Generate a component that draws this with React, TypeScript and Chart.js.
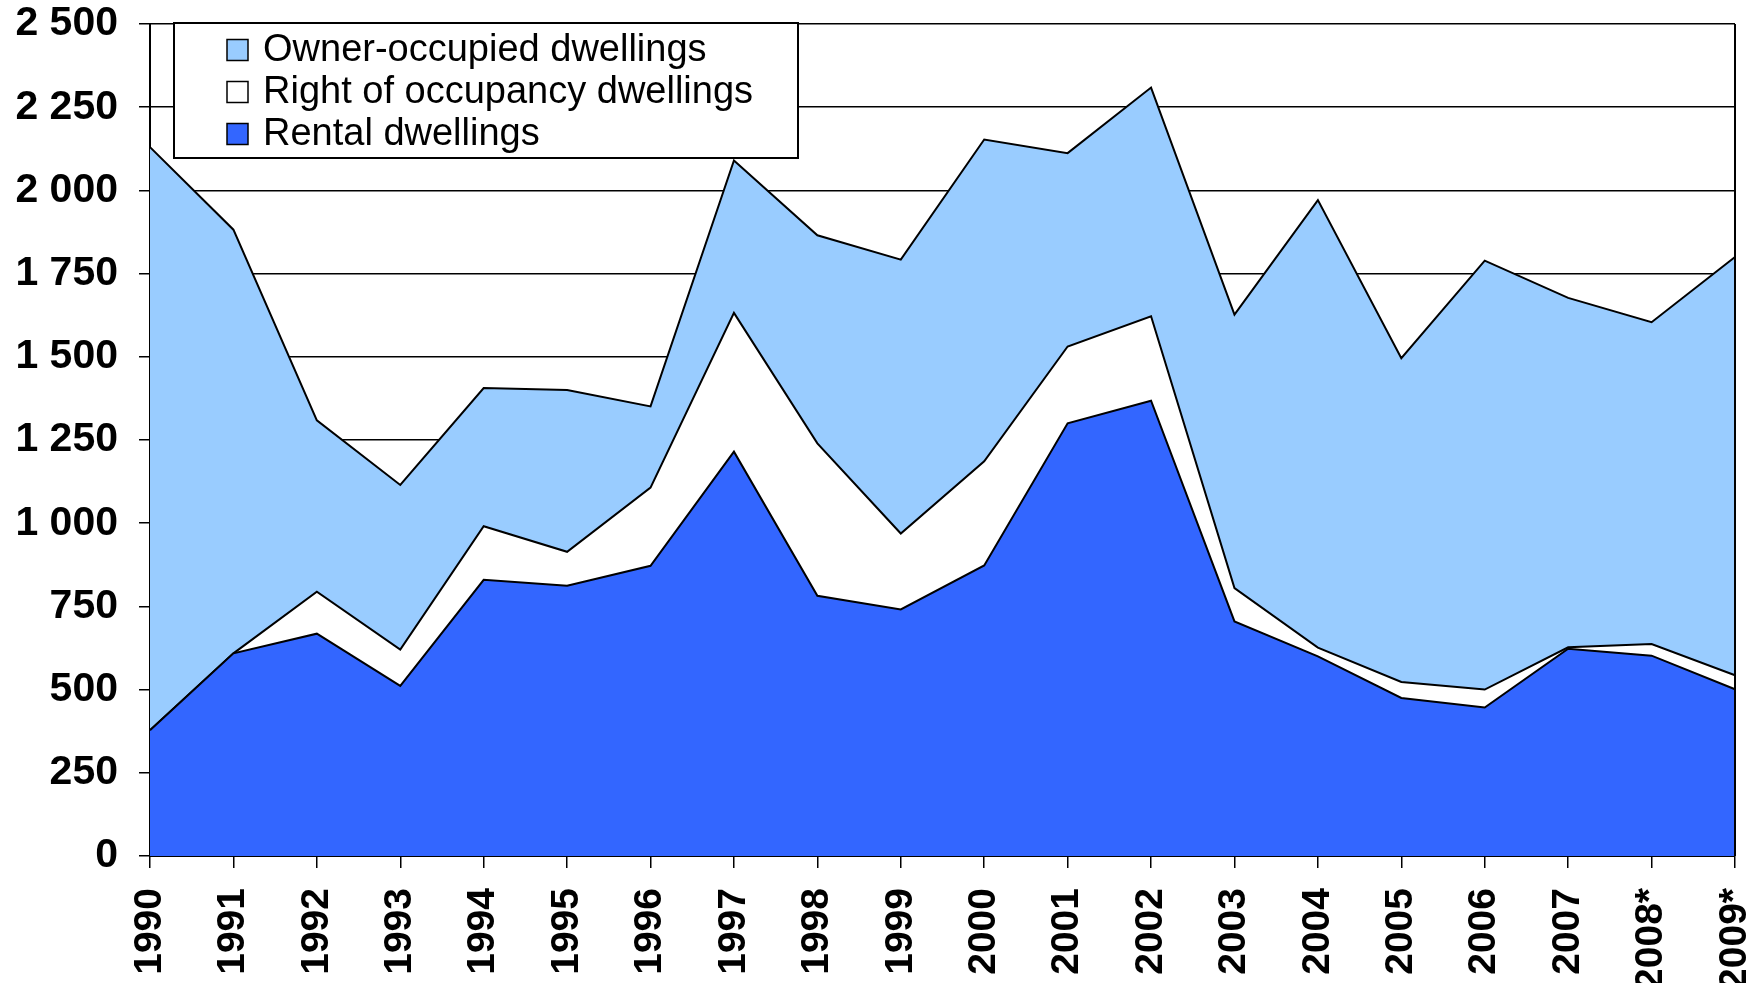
import React, { useEffect, useRef } from "react";
import { Chart, registerables } from "chart.js";

Chart.register(...registerables);

const years = [
  "1990", "1991", "1992", "1993", "1994", "1995", "1996", "1997", "1998", "1999",
  "2000", "2001", "2002", "2003", "2004", "2005", "2006", "2007", "2008*", "2009*",
];

const rentalDwellings = [378, 609, 668, 511, 830, 812, 872, 1215, 782, 741, 873, 1300, 1368, 705, 600, 475, 446, 623, 602, 501];
const rightOfOccupancyDwellings = [0, 0, 126, 109, 161, 102, 235, 417, 458, 228, 313, 231, 254, 100, 26, 48, 54, 4, 35, 42];
const ownerOccupiedDwellings = [1752, 1273, 515, 495, 415, 486, 244, 458, 625, 823, 967, 581, 687, 822, 1345, 973, 1289, 1050, 967, 1257];

const yTicks = [0, 250, 500, 750, 1000, 1250, 1500, 1750, 2000, 2250, 2500];

const FONT = "'Liberation Sans', Arial, Helvetica, sans-serif";

const frameAndLegendPlugin = {
  id: "frameAndLegend",
  afterDatasetsDraw(chart: any) {
    const ctx = chart.ctx;
    const a = chart.chartArea;
    ctx.save();
    ctx.strokeStyle = "#000000";
    ctx.lineWidth = 2;
    ctx.beginPath();
    ctx.moveTo(a.right, a.top);
    ctx.lineTo(a.right, a.bottom);
    ctx.stroke();
    ctx.restore();
  },
  afterDraw(chart: any) {
    const ctx = chart.ctx;
    const ds = chart.data.datasets;
    const order = [2, 1, 0];
    ctx.save();
    ctx.fillStyle = "#ffffff";
    ctx.fillRect(174, 23, 624, 135);
    ctx.strokeStyle = "#000000";
    ctx.lineWidth = 2;
    ctx.strokeRect(174, 23, 624, 135);
    ctx.font = `38px ${FONT}`;
    ctx.textBaseline = "middle";
    ctx.textAlign = "left";
    order.forEach((idx, i) => {
      const cy = 50 + i * 42;
      ctx.fillStyle = ds[idx].backgroundColor;
      ctx.fillRect(227, cy - 10.5, 21, 21);
      ctx.lineWidth = 1.5;
      ctx.strokeStyle = "#000000";
      ctx.strokeRect(227, cy - 10.5, 21, 21);
      ctx.fillStyle = "#000000";
      ctx.fillText(ds[idx].label, 263, cy + 1);
    });
    ctx.restore();
  },
};

function fmt(v: number) {
  return String(v).replace(/\B(?=(\d{3})+(?!\d))/g, " ");
}

export default function App() {
  const ref = useRef<HTMLCanvasElement | null>(null);

  useEffect(() => {
    if (!ref.current) return;
    const common = {
      borderColor: "#000000",
      borderWidth: 2,
      pointRadius: 0,
      pointHoverRadius: 0,
      tension: 0,
    };
    const chart = new Chart(ref.current, {
      type: "line",
      data: {
        labels: years,
        datasets: [
          { ...common, label: "Rental dwellings", data: rentalDwellings, backgroundColor: "#3366FF", fill: "origin" },
          { ...common, label: "Right of occupancy dwellings", data: rightOfOccupancyDwellings, backgroundColor: "#FFFFFF", fill: "-1" },
          { ...common, label: "Owner-occupied dwellings", data: ownerOccupiedDwellings, backgroundColor: "#99CCFF", fill: "-1" },
        ],
      },
      options: {
        animation: false,
        responsive: false,
        maintainAspectRatio: false,
        layout: { padding: { top: 24, right: 25, left: 0, bottom: 0 } },
        plugins: {
          legend: { display: false },
          tooltip: { enabled: false },
        },
        scales: {
          x: {
            offset: false,
            grid: {
              display: true,
              drawOnChartArea: false,
              drawTicks: true,
              tickLength: 12,
              color: "#000000",
              lineWidth: 1.5,
            },
            border: { display: true, color: "#000000", width: 2 },
            ticks: {
              minRotation: 90,
              maxRotation: 90,
              autoSkip: false,
              padding: 20,
              color: "#000000",
              font: { family: FONT, size: 39, weight: "bold" },
            },
            afterFit(scale: any) {
              scale.height = 127;
              scale.paddingLeft = 0;
              scale.paddingRight = 0;
            },
          },
          y: {
            stacked: true,
            min: 0,
            max: 2500,
            afterBuildTicks(scale: any) {
              scale.ticks = yTicks.map((v) => ({ value: v }));
            },
            grid: {
              color: "#000000",
              lineWidth: 1.5,
              drawTicks: true,
              tickLength: 11,
            },
            border: { display: true, color: "#000000", width: 2 },
            ticks: {
              padding: 21,
              color: "#000000",
              font: { family: FONT, size: 41, weight: "bold" },
              callback: (v: any) => fmt(Number(v)),
            },
            afterFit(scale: any) {
              scale.width = 150;
              scale.paddingTop = 0;
              scale.paddingBottom = 0;
            },
          },
        },
      },
      plugins: [frameAndLegendPlugin],
    } as any);
    return () => chart.destroy();
  }, []);

  return (
    <div style={{ position: "absolute", left: 0, top: 0, width: 1760, height: 983, background: "#ffffff" }}>
      <canvas ref={ref} width={1760} height={983} style={{ display: "block", width: 1760, height: 983 }} />
    </div>
  );
}
